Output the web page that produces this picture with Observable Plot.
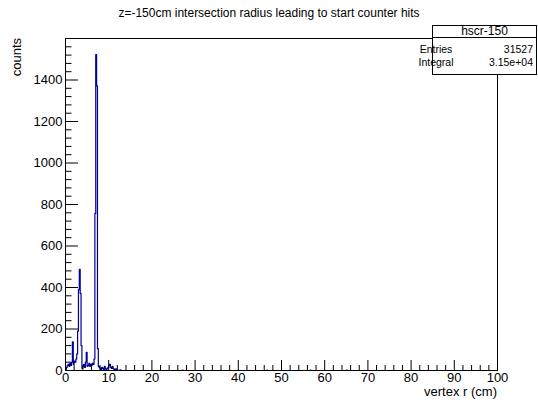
<!DOCTYPE html>
<html><head><meta charset="utf-8">
<script src="https://cdn.jsdelivr.net/npm/d3@7"></script>
<script src="https://cdn.jsdelivr.net/npm/@observablehq/plot@0.6"></script>
<style>
body{margin:0;background:#fff}
#chart svg{font-family:"Liberation Sans",Arial,Helvetica,sans-serif;background:#fff}
</style>
</head><body><div id="chart"></div>
<script>
const chartTitle = "z=-150cm intersection radius leading to start counter hits";
const xTitle = "vertex r (cm)";
const yTitle = "counts";
const histName = "hscr-150";
const statLabels = ["Entries", "Integral"];
const statValues = ["31527", "3.15e+04"];

const binWidth = 0.2;
const nBins = 500;
// bin low edges (cm) of non-empty bins and their contents
const binStart = [0.0,0.2,0.4,0.6,0.8,1.0,1.2,1.4,1.6,1.8,2.0,2.2,2.4,2.6,2.8,3.0,3.2,3.4,3.6,3.8,
  4.0,4.2,4.4,4.6,4.8,5.0,5.2,5.4,5.6,5.8,6.0,6.2,6.4,6.6,6.8,7.0,7.2,7.4,7.6,7.8,
  8.0,8.2,8.4,8.6,8.8,9.0,9.2,9.4,9.6,9.8,10.0,10.2,10.4,10.6,10.8,11.0,11.2,11.4,11.6,12.0,
  12.6,27.0,46.6,56.6,65.0];
const binCount = [5,15,25,30,20,35,25,40,138,30,45,40,55,80,190,390,488,372,120,10,
  20,30,15,40,88,20,25,35,20,30,25,35,30,55,757,1522,1372,105,20,15,
  10,5,15,10,5,20,8,5,10,15,25,30,15,10,20,10,5,3,8,2,
  3,2,2,2,2];

const xMajor = [0,10,20,30,40,50,60,70,80,90,100];
const xMinor = d3.range(0, 101, 2).filter(v => v % 10 !== 0);
const yMajor = [0,200,400,600,800,1000,1200,1400];
const yMinor = d3.range(0, 1600, 40).filter(v => v % 200 !== 0);

const counts = new Map(binStart.map((s, i) => [Math.round(s / binWidth), binCount[i]]));
const series = d3.range(nBins).map(i => ({x: i * binWidth, y: counts.get(i) || 0}));
series.push({x: nBins * binWidth, y: series[nBins - 1].y});

const blue = "#000099";
const chart = Plot.plot({
  width: 538, height: 407,
  marginTop: 38, marginBottom: 37, marginLeft: 65, marginRight: 41,
  x: {domain: [0, 100]},
  y: {domain: [0, 1600]},
  style: {fontSize: "13px", color: "black", background: "white"},
  marks: [
    Plot.line(series, {x: "x", y: "y", curve: "step-after", stroke: blue, strokeWidth: 1.2}),
    Plot.frame({stroke: "black"}),
    Plot.axisX(xMajor, {tickSize: -10, tickPadding: 12, label: null, fontSize: 13, tickFormat: d => String(d)}),
    Plot.axisX(xMinor, {tickSize: -5, tickFormat: () => "", label: null}),
    Plot.axisY(yMajor, {tickSize: -13, tickPadding: 16, label: null, fontSize: 13, tickFormat: d => String(d)}),
    Plot.axisY(yMinor, {tickSize: -6.5, tickFormat: () => "", label: null})
  ]
});
document.getElementById("chart").appendChild(chart);

const svg = d3.select(chart);
svg.append("text").attr("x", 269).attr("y", 14).attr("text-anchor", "middle")
  .attr("dominant-baseline", "middle").attr("font-size", 12).text(chartTitle);
svg.append("text").attr("x", 497).attr("y", 393).attr("text-anchor", "end")
  .attr("dominant-baseline", "middle").attr("font-size", 13).text(xTitle);
svg.append("text").attr("transform", "translate(18,38) rotate(-90)").attr("text-anchor", "end")
  .attr("dominant-baseline", "middle").attr("font-size", 13).text(yTitle);

const box = svg.append("g");
box.append("rect").attr("x", 432.5).attr("y", 25.5).attr("width", 104).attr("height", 49)
  .attr("fill", "white").attr("stroke", "black");
box.append("line").attr("x1", 432.5).attr("x2", 536.5).attr("y1", 37.5).attr("y2", 37.5).attr("stroke", "black");
box.append("text").attr("x", 484.5).attr("y", 31.5).attr("text-anchor", "middle")
  .attr("dominant-baseline", "middle").attr("font-size", 12).text(histName);
statLabels.forEach((lab, i) => {
  box.append("text").attr("x", 436).attr("y", 50 + i * 13).attr("dominant-baseline", "middle")
    .attr("font-size", 10.5).text(lab);
  box.append("text").attr("x", 533).attr("y", 50 + i * 13).attr("text-anchor", "end")
    .attr("dominant-baseline", "middle").attr("font-size", 10.5).text(statValues[i]);
});
</script>
</body></html>
